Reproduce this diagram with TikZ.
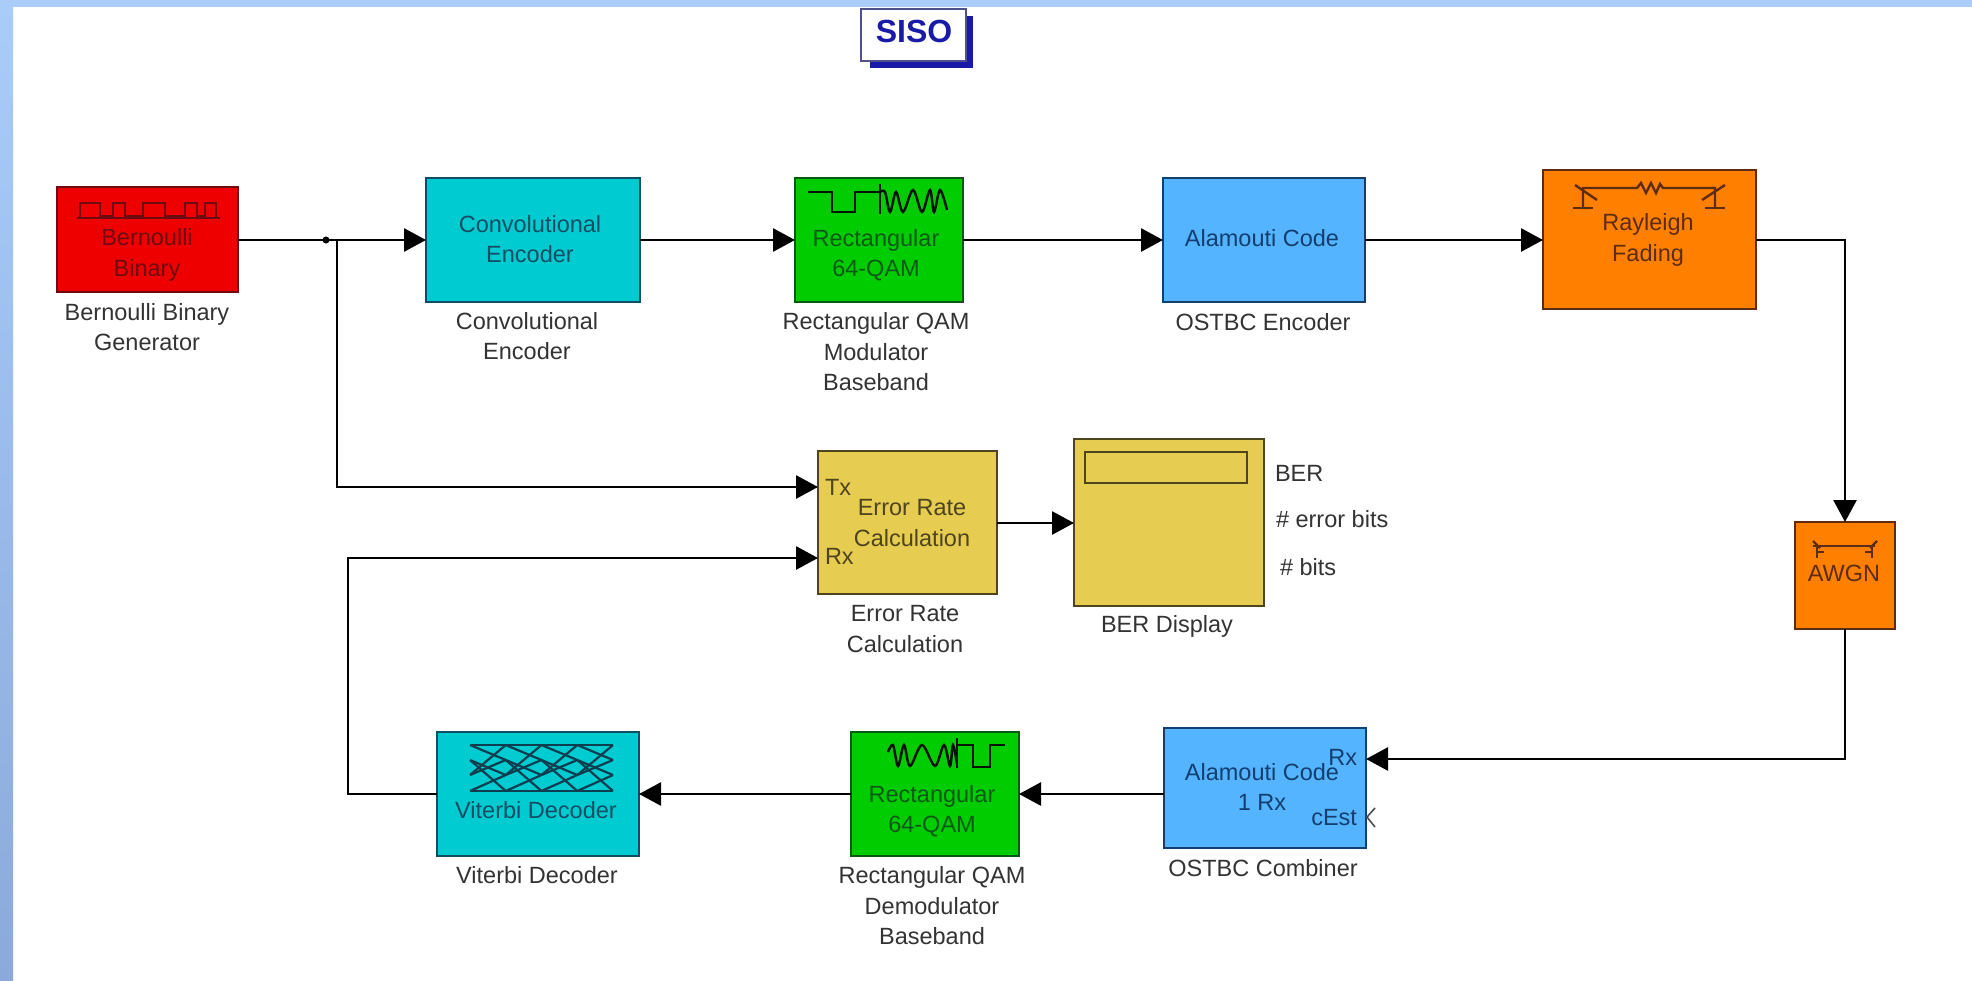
\documentclass[tikz,border=0pt]{standalone}
\usepackage{fontspec}
\setmainfont{Liberation Sans}
\usetikzlibrary{arrows.meta}
\definecolor{bandtop}{HTML}{A9CCF9}
\definecolor{bandbot}{HTML}{8BAAD9}
\definecolor{cred}{HTML}{EE0000}\definecolor{dred}{HTML}{6E0A10}
\definecolor{ccyan}{HTML}{00CBD0}\definecolor{dcyan}{HTML}{0F4E64}
\definecolor{cgreen}{HTML}{00CC00}\definecolor{dgreen}{HTML}{085A12}
\definecolor{cblue}{HTML}{55B4FF}\definecolor{dblue}{HTML}{123F70}
\definecolor{corange}{HTML}{FF8000}\definecolor{dorange}{HTML}{5E2C12}
\definecolor{cyellow}{HTML}{E6CC50}\definecolor{dyellow}{HTML}{4E441E}
\definecolor{lblgray}{HTML}{333333}
\definecolor{navy}{HTML}{1A1AA8}
\definecolor{sisoline}{HTML}{50508C}
\tikzset{
  blk/.style={draw,line width=2.6pt,inner sep=0pt,outer sep=0pt,anchor=north west},
  redb/.style={blk,fill=cred,draw=dred},
  cyanb/.style={blk,fill=ccyan,draw=dcyan},
  greenb/.style={blk,fill=cgreen,draw=dgreen},
  blueb/.style={blk,fill=cblue,draw=dblue},
  orangeb/.style={blk,fill=corange,draw=dorange},
  yellowb/.style={blk,fill=cyellow,draw=dyellow},
  txt/.style={inner sep=0pt,outer sep=0pt,align=center,font=\fontsize{23.5}{30.5}\selectfont},
  lbl/.style={txt,text=lblgray},
  wire/.style={line width=2.8pt,color=black},
  arr/.style={wire,-{Triangle[length=22pt,width=23pt]}},
  icon/.style={line width=2.4pt,line join=miter}
}
\begin{document}
\begin{tikzpicture}[x=1pt,y=-1pt]
\useasboundingbox (0,0) rectangle (1972,980);
\fill[white] (0,0) rectangle (1972,980);
\shade[top color=bandtop,bottom color=bandbot,draw=none] (0,0) rectangle (13,980);
\fill[bandtop] (0,0) rectangle (1972,7);

% title
\fill[navy] (870,16) rectangle (973,68);
\node[draw=sisoline,line width=2.4pt,fill=white,inner sep=0pt,outer sep=0pt,anchor=north west,
  minimum width=105pt,minimum height=52pt] (siso) at (861,9) {};
\node[inner sep=0pt,font=\fontsize{32}{32}\selectfont\bfseries,text=navy] (sisotxt) at (914,31) {SISO};

% blocks
\node[redb,minimum width=181pt,minimum height=105pt] (bern) at (57,187) {};
\node[cyanb,minimum width=214pt,minimum height=124pt] (conv) at (426,178) {};
\node[greenb,minimum width=168pt,minimum height=124pt] (rect) at (795,178) {};
\node[blueb,minimum width=202pt,minimum height=124pt] (enc) at (1163,178) {};
\node[orangeb,minimum width=213pt,minimum height=139pt] (ray) at (1543,170) {};
\node[orangeb,minimum width=100pt,minimum height=107pt] (awgn) at (1795,522) {};
\node[yellowb,minimum width=179pt,minimum height=143pt] (err) at (818,451) {};
\node[yellowb,minimum width=190pt,minimum height=167pt] (ber) at (1074,439) {};
\node[draw=dyellow,line width=2.6pt,inner sep=0pt,outer sep=0pt,anchor=north west,minimum width=162pt,minimum height=31pt] (berwin) at (1085,452) {};
\node[cyanb,minimum width=202pt,minimum height=124pt] (vit) at (437,732) {};
\node[greenb,minimum width=168pt,minimum height=124pt] (dem) at (851,732) {};
\node[blueb,minimum width=202pt,minimum height=120pt] (comb) at (1164,728) {};

% connector ends
\coordinate (jn) at (337,240);
\coordinate (txin) at (818,487);
\coordinate (rxin) at (818,558);
\coordinate (rc) at (348,558);
\coordinate (crx) at (1366,759);
\coordinate (berin) at (1074,523);
\coordinate (errout) at (997,523);
\node[circle,fill=black,inner sep=0pt,minimum size=7pt] (dot) at (326,240) {};

% connectors
\draw[arr] (bern.east |- conv.west) -- (conv.west);
\draw[arr] (conv.east) -- (rect.west);
\draw[arr] (rect.east) -- (enc.west);
\draw[arr] (enc.east) -- (enc.east -| ray.west);
\draw[arr] (enc.east -| ray.east) -| (awgn.north);
\draw[arr] (awgn.south) |- (crx);
\draw[arr] (comb.west |- dem.east) -- (dem.east);
\draw[arr] (dem.west) -- (vit.east);
\draw[arr] (vit.west) -| (rc) -- (rxin);
\draw[arr] (jn) |- (txin);
\draw[arr] (errout) -- (berin);
\coordinate (cesta) at (1375,808);\coordinate (cestb) at (1367,817);\coordinate (cestc) at (1375,827);
\draw[line width=1.6pt,color=black!70] (cesta) -- (cestb) -- (cestc);

% icons
\begin{scope}[icon,color=dred]
\draw (77,218) -- (220,218);
\draw (80,218) -- (80,203) -- (100,203) -- (100,216) -- (113,216) -- (113,203) -- (125,203) -- (125,216) -- (143,216) -- (143,203) -- (165,203) -- (165,216) -- (185,216) -- (185,203) -- (197,203) -- (197,216) -- (205,216) -- (205,203) -- (216,203) -- (216,218);
\end{scope}
\begin{scope}[icon,color=black!80!dgreen]
\draw (808,192) -- (832,192) -- (832,212) -- (855,212) -- (855,192) -- (880,192);
\draw (880,184) -- (880,214);
\draw plot[smooth,tension=0.55] coordinates {(880,192)(885,192)(890,212)(896,192)(903,212)(913,190)(922,212)(930,190)(934,212)(940,190)(947,210)};
\draw (957,738) -- (957,768);
\draw (957,745) -- (973,745) -- (973,767) -- (990,767) -- (990,745) -- (1005,745);
\draw plot[smooth,tension=0.55] coordinates {(888,752)(893,745)(898,766)(904,745)(910,766)(922,745)(935,766)(944,745)(950,766)(953,745)(957,764)};
\end{scope}
\begin{scope}[icon,color=dorange]
\draw (1583,208) -- (1583,188) -- (1637,188) -- (1641,183) -- (1646,193) -- (1651,183) -- (1656,193) -- (1660,184) -- (1663,188) -- (1715,188) -- (1715,208);
\draw (1573,208) -- (1593,208);\draw (1705,208) -- (1725,208);
\draw (1575,185) -- (1597,200);\draw (1725,185) -- (1702,200);
\draw (1813,546) -- (1875,546);
\draw (1817,546) -- (1817,558);\draw (1872,546) -- (1872,558);
\draw (1817,552) -- (1824,552);\draw (1872,552) -- (1865,552);
\draw (1813,541) -- (1820,548);\draw (1877,541) -- (1870,548);
\end{scope}
\begin{scope}[line width=2.2pt,color=dcyan!80!black]
\foreach \x in {470,505.75,541.5,577.25}{
  \pgfmathsetmacro{\xe}{\x+35.75}
  \draw (\x,745) -- (\xe,745);
  \draw (\x,745) -- (\xe,760);
  \draw (\x,760) -- (\xe,775);
  \draw (\x,760) -- (\xe,791);
  \draw (\x,775) -- (\xe,745);
  \draw (\x,775) -- (\xe,760);
  \draw (\x,791) -- (\xe,775);
  \draw (\x,791) -- (\xe,791);
}
\end{scope}

% texts inside the blocks
\node[txt,text=dred] (tbern) at (147,255) {Bernoulli\\Binary};
\node[txt,text=dcyan] (tconv) at (530,239) {Convolutional\\Encoder};
\node[txt,text=dgreen] (trect) at (876,255) {Rectangular\\64-QAM};
\node[txt,text=dblue] (tenc) at (1262,238) {Alamouti Code};
\node[txt,text=dorange] (tray) at (1648,240) {Rayleigh\\Fading};
\node[txt,text=dorange] (tawgn) at (1844,573) {AWGN};
\node[txt,text=dyellow] (terr) at (912,523) {Error Rate\\Calculation};
\node[txt,text=dyellow,anchor=west] (ttx) at (825,487) {Tx};
\node[txt,text=dyellow,anchor=west] (trx) at (825,556) {Rx};
\node[txt,text=dcyan] (tvit) at (536,810) {Viterbi Decoder};
\node[txt,text=dgreen] (tdem) at (932,811) {Rectangular\\64-QAM};
\node[txt,text=dblue] (tcomb) at (1262,787) {Alamouti Code\\1 Rx};
\node[txt,text=dblue,anchor=east] (tcrx) at (1357,757) {Rx};
\node[txt,text=dblue,anchor=east] (tcest) at (1357,818) {cEst};

% labels
\node[lbl] (lbern) at (147,327) {Bernoulli Binary\\Generator};
\node[lbl] (lconv) at (527,336) {Convolutional\\Encoder};
\node[lbl] (lrect) at (876,352) {Rectangular QAM\\Modulator\\Baseband};
\node[lbl] (lenc) at (1263,322) {OSTBC Encoder};
\node[lbl,anchor=west] (lb1) at (1275,473) {BER};
\node[lbl,anchor=west] (lb2) at (1276,519) {\# error bits};
\node[lbl,anchor=west] (lb3) at (1280,567) {\# bits};
\node[lbl] (lber) at (1167,626) {BER Display};
\node[lbl] (lerr) at (905,629) {Error Rate\\Calculation};
\node[lbl] (lvit) at (537,875) {Viterbi Decoder};
\node[lbl] (ldem) at (932,906) {Rectangular QAM\\Demodulator\\Baseband};
\node[lbl] (lcomb) at (1263,868) {OSTBC Combiner};
\end{tikzpicture}
\end{document}
